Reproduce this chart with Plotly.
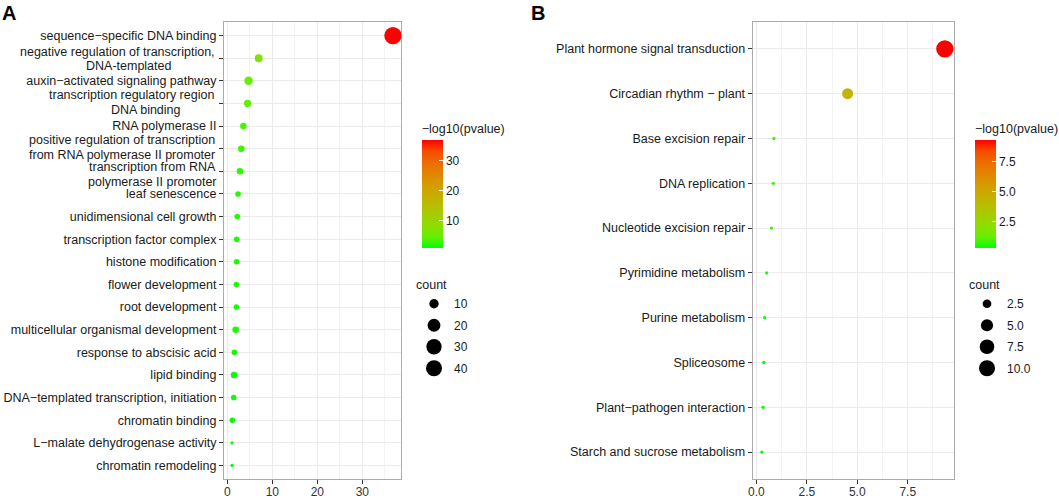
import numpy as np
import plotly.graph_objects as go

# panel A: GO enrichment
go_terms = [
    "sequence−specific DNA binding",
    "negative regulation of transcription,\nDNA-templated",
    "auxin−activated signaling pathway",
    "transcription regulatory region\nDNA binding",
    "RNA polymerase II",
    "positive regulation of transcription\nfrom RNA polymerase II promoter",
    "transcription from RNA\npolymerase II promoter",
    "leaf senescence",
    "unidimensional cell growth",
    "transcription factor complex",
    "histone modification",
    "flower development",
    "root development",
    "multicellular organismal development",
    "response to abscisic acid",
    "lipid binding",
    "DNA−templated transcription, initiation",
    "chromatin binding",
    "L−malate dehydrogenase activity",
    "chromatin remodeling",
]
go_log10p = [36.8, 6.96, 4.7, 4.5, 3.56, 3.1, 2.8, 2.37, 2.2, 2.07,
             2.07, 2.0, 2.0, 1.85, 1.56, 1.48, 1.41, 1.11, 1.04, 1.04]
go_count = [40, 7, 8, 6, 5, 5, 5, 4, 4, 4, 4, 4, 4, 5, 4, 5, 4, 4, 3, 3]

# panel B: KEGG enrichment
kegg_terms = [
    "Plant hormone signal transduction",
    "Circadian rhythm − plant",
    "Base excision repair",
    "DNA replication",
    "Nucleotide excision repair",
    "Pyrimidine metabolism",
    "Purine metabolism",
    "Spliceosome",
    "Plant−pathogen interaction",
    "Starch and sucrose metabolism",
]
kegg_log10p = [9.34, 4.52, 0.87, 0.84, 0.75, 0.51, 0.41, 0.37, 0.33, 0.27]
kegg_count = [11, 4, 1, 1, 1, 1, 1, 1, 1, 1]

x_ticks_a = [0, 10, 20, 30]
x_ticks_b = [0, 2.5, 5.0, 7.5]
color_ticks_a = [10, 20, 30]
color_ticks_b = [2.5, 5.0, 7.5]
size_breaks_a = [10, 20, 30, 40]
size_breaks_b = [2.5, 5.0, 7.5, 10.0]

W, H = 1059, 498
FONT = "Liberation Sans, Arial, sans-serif"
BORDER = "#ABABAB"
GRID = "#EBEBEB"


def px_x(p):
    return p / W


def px_y(p):
    return 1 - p / H


# ggplot-like colour gradient (green -> red, interpolated in Lab)
M = np.array([[0.4124, 0.3576, 0.1805],
              [0.2126, 0.7152, 0.0722],
              [0.0193, 0.1192, 0.9505]])
WHITE = np.array([0.95047, 1.0, 1.08883])


def rgb_to_lab(rgb):
    c = np.array(rgb, float) / 255.0
    lin = np.where(c <= 0.04045, c / 12.92, ((c + 0.055) / 1.055) ** 2.4)
    xyz = M @ lin / WHITE
    f = np.where(xyz > (6 / 29) ** 3, np.cbrt(xyz), xyz / (3 * (6 / 29) ** 2) + 4 / 29)
    return np.array([116 * f[1] - 16, 500 * (f[0] - f[1]), 200 * (f[1] - f[2])])


def lab_to_rgb(lab):
    L, a, b = lab
    fy = (L + 16) / 116
    f = np.array([fy + a / 500, fy, fy - b / 200])
    xyz = np.where(f > 6 / 29, f ** 3, 3 * (6 / 29) ** 2 * (f - 4 / 29)) * WHITE
    lin = np.clip(np.linalg.inv(M) @ xyz, 0, 1)
    c = np.where(lin <= 0.0031308, 12.92 * lin, 1.055 * lin ** (1 / 2.4) - 0.055)
    return "rgb(%d,%d,%d)" % tuple(np.round(c * 255))


lab_lo, lab_hi = rgb_to_lab((0, 255, 0)), rgb_to_lab((255, 0, 0))
green_red = [[t, lab_to_rgb(lab_lo + (lab_hi - lab_lo) * t)] for t in np.linspace(0, 1, 11)]


def dot_size(c, lo, hi, dmin=3.3, dmax=17.3):
    return dmin + (dmax - dmin) * np.sqrt((np.asarray(c, float) - lo) / (hi - lo))


def padded(v):
    lo, hi = min(v), max(v)
    return [lo - 0.05 * (hi - lo), hi + 0.05 * (hi - lo)]


fig = go.Figure()

fig.add_trace(go.Scatter(
    x=go_log10p, y=go_terms, mode="markers",
    marker=dict(size=dot_size(go_count, min(go_count), max(go_count)),
                color=go_log10p, coloraxis="coloraxis", line=dict(width=0), opacity=1),
    xaxis="x", yaxis="y", showlegend=False,
))
fig.add_trace(go.Scatter(
    x=kegg_log10p, y=kegg_terms, mode="markers",
    marker=dict(size=dot_size(kegg_count, min(kegg_count), max(kegg_count)),
                color=kegg_log10p, coloraxis="coloraxis2", line=dict(width=0), opacity=1),
    xaxis="x2", yaxis="y2", showlegend=False,
))

# size legends
for i, b in enumerate(size_breaks_a):
    fig.add_trace(go.Scatter(
        x=[None], y=[None], mode="markers", name=str(b), legend="legend",
        legendgroup="a%d" % i,
        marker=dict(size=float(dot_size(b, min(go_count), max(go_count))), color="black"),
        xaxis="x", yaxis="y",
    ))
for i, b in enumerate(size_breaks_b):
    fig.add_trace(go.Scatter(
        x=[None], y=[None], mode="markers", name="%.1f" % b, legend="legend2",
        legendgroup="b%d" % i,
        marker=dict(size=float(dot_size(b, min(kegg_count), max(kegg_count))), color="black"),
        xaxis="x2", yaxis="y2",
    ))

axis_common = dict(
    showline=True, linecolor=BORDER, linewidth=1.2, mirror=True,
    showgrid=True, gridcolor=GRID, gridwidth=1, zeroline=False,
    ticks="outside", ticklen=4, tickcolor="#333333", tickwidth=1,
    automargin=False,
)

ydom = [px_y(479), px_y(22)]

# multi-line GO labels drawn as annotations: (right edge px, yshift) per line
wrap_pos = {
    1: [(217, 6), (173, -8)],
    3: [(216, 8), (183, -7)],
    5: [(217, 9), (217, -6)],
    6: [(218, 4), (219, -11)],
}
tick_text_a = ["" if "\n" in t else t for t in go_terms]

annotations = []
for idx, pos in wrap_pos.items():
    for line, (xr, ys) in zip(go_terms[idx].split("\n"), pos):
        annotations.append(dict(
            text=line, x=px_x(xr), xref="paper", xanchor="right",
            y=idx, yref="y", yanchor="middle", yshift=ys, showarrow=False,
            font=dict(size=12.5, color="#1A1A1A", family=FONT),
        ))

annotations += [
    dict(text="<b>A</b>", x=px_x(0), y=px_y(0), xref="paper", yref="paper",
         xanchor="left", yanchor="top", showarrow=False,
         font=dict(size=20, color="black", family=FONT)),
    dict(text="<b>B</b>", x=px_x(529), y=px_y(0), xref="paper", yref="paper",
         xanchor="left", yanchor="top", showarrow=False,
         font=dict(size=20, color="black", family=FONT)),
]


def cbar(x_left, ticks, fmt):
    return dict(
        title=dict(text="−log10(pvalue)", side="top",
                   font=dict(size=12.5, color="#1A1A1A", family=FONT)),
        x=px_x(x_left), xanchor="left", xpad=0,
        y=px_y(121), yanchor="top", ypad=0,
        len=127, lenmode="pixels", thickness=21, thicknessmode="pixels",
        outlinewidth=0, ticks="inside", tickcolor="white", ticklen=4,
        tickvals=ticks, tickformat=fmt,
        tickfont=dict(size=12, color="#1A1A1A", family=FONT),
    )


def size_legend(x_left):
    return dict(
        title=dict(text="count", font=dict(size=12.5, color="#1A1A1A", family=FONT)),
        x=px_x(x_left), xanchor="left", y=px_y(273), yanchor="top",
        itemsizing="trace", traceorder="grouped", tracegroupgap=2.5,
        bgcolor="rgba(0,0,0,0)", borderwidth=0,
        font=dict(size=12, color="#1A1A1A", family=FONT),
    )


x_tickfont = dict(size=12, color="#333333")

fig.update_layout(
    width=W, height=H,
    margin=dict(l=0, r=0, t=0, b=0),
    paper_bgcolor="white", plot_bgcolor="white",
    font=dict(family=FONT, color="#1A1A1A"),
    xaxis=dict(domain=[px_x(224), px_x(401)], range=padded(go_log10p),
               tickvals=x_ticks_a, minor=dict(dtick=5, showgrid=True, gridcolor="#F3F3F3"),
               tickfont=x_tickfont, ticklabelstandoff=-3, anchor="y", **axis_common),
    yaxis=dict(domain=ydom, type="category", categoryorder="array", categoryarray=go_terms,
               range=[len(go_terms) - 0.4, -0.6], tickmode="array",
               tickvals=go_terms, ticktext=tick_text_a,
               tickfont=dict(size=12.5, color="#1A1A1A"), anchor="x", **axis_common),
    xaxis2=dict(domain=[px_x(752.7), px_x(954)], range=padded(kegg_log10p),
                tickvals=x_ticks_b, tickformat=".1f",
                minor=dict(dtick=1.25, tick0=0, showgrid=True, gridcolor="#F3F3F3"),
                tickfont=x_tickfont, ticklabelstandoff=-3, anchor="y2", **axis_common),
    yaxis2=dict(domain=ydom, type="category", categoryorder="array", categoryarray=kegg_terms,
                range=[len(kegg_terms) - 0.4, -0.6],
                tickfont=dict(size=12.5, color="#1A1A1A"), anchor="x2", **axis_common),
    coloraxis=dict(colorscale=green_red, cmin=min(go_log10p), cmax=max(go_log10p),
                   colorbar=cbar(421.7, color_ticks_a, "d")),
    coloraxis2=dict(colorscale=green_red, cmin=min(kegg_log10p), cmax=max(kegg_log10p),
                    colorbar=cbar(975, color_ticks_b, ".1f")),
    legend=size_legend(414),
    legend2=size_legend(967),
    annotations=annotations,
)

# page body has a default 8px margin; drop it so the figure fills the window
fig.write_html("out.html", config={"displayModeBar": False},
               post_script="document.body.style.margin='0';")
